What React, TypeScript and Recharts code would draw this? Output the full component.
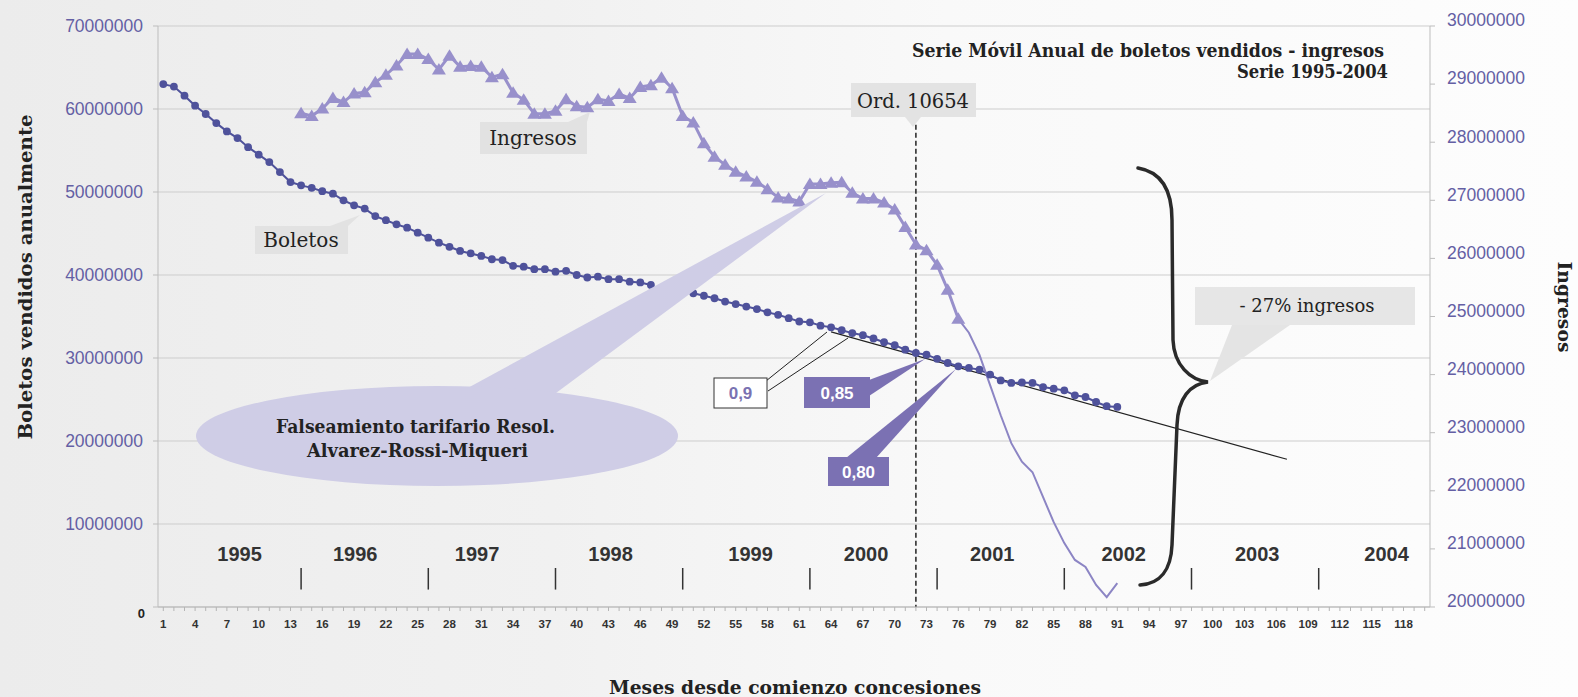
import {
  CartesianGrid,
  Line,
  LineChart,
  ReferenceDot,
  ReferenceLine,
  XAxis,
  YAxis,
} from "recharts";

const W = 1578;
const H = 697;

// Boletos vendidos (serie móvil anual), meses 1..91; 48-50 sin dato
const boletos = [
  63.0e6, 62.7e6, 61.6e6, 60.4e6, 59.4e6, 58.3e6, 57.3e6, 56.5e6, 55.4e6, 54.5e6,
  53.6e6, 52.4e6, 51.2e6, 50.8e6, 50.5e6, 50.1e6, 49.8e6, 49.0e6, 48.4e6, 48.0e6,
  47.1e6, 46.6e6, 46.1e6, 45.7e6, 45.1e6, 44.5e6, 43.9e6, 43.4e6, 42.9e6, 42.6e6,
  42.3e6, 41.9e6, 41.8e6, 41.1e6, 41.0e6, 40.7e6, 40.7e6, 40.4e6, 40.5e6, 40.0e6,
  39.7e6, 39.8e6, 39.5e6, 39.5e6, 39.2e6, 39.1e6, 38.8e6, null, null, null,
  37.8e6, 37.5e6, 37.2e6, 36.8e6, 36.5e6, 36.2e6, 35.9e6, 35.5e6, 35.2e6, 34.8e6,
  34.4e6, 34.3e6, 33.9e6, 33.7e6, 33.35e6, 33.0e6, 32.75e6, 32.35e6, 31.9e6, 31.55e6,
  31.0e6, 30.6e6, 30.4e6, 29.9e6, 29.4e6, 29.0e6, 28.8e6, 28.6e6, 28.0e6, 27.3e6,
  27.0e6, 27.05e6, 27.0e6, 26.5e6, 26.3e6, 26.1e6, 25.5e6, 25.3e6, 24.7e6, 24.2e6,
  24.1e6,
];

// Ingresos con marcador, meses 14..76
const INGRESOS_MARKED_FROM = 14;
const ingresosMarked = [
  28.5e6, 28.45e6, 28.58e6, 28.76e6, 28.69e6, 28.84e6, 28.86e6, 29.03e6, 29.16e6, 29.32e6,
  29.52e6, 29.52e6, 29.43e6, 29.25e6, 29.49e6, 29.3e6, 29.31e6, 29.3e6, 29.12e6, 29.17e6,
  28.85e6, 28.73e6, 28.49e6, 28.49e6, 28.54e6, 28.74e6, 28.62e6, 28.6e6, 28.74e6, 28.71e6,
  28.83e6, 28.76e6, 28.95e6, 28.98e6, 29.11e6, 28.93e6, 28.45e6, 28.34e6, 27.98e6, 27.75e6,
  27.61e6, 27.49e6, 27.41e6, 27.32e6, 27.19e6, 27.05e6, 27.03e6, 26.98e6, 27.28e6, 27.28e6,
  27.3e6, 27.31e6, 27.13e6, 27.03e6, 27.03e6, 26.96e6, 26.84e6, 26.54e6, 26.24e6, 26.14e6,
  25.89e6, 25.46e6, 24.96e6,
];

// Ingresos sin marcador, meses 76..91
const INGRESOS_TAIL_FROM = 76;
const ingresosTail = [
  24.96e6, 24.72e6, 24.34e6, 23.82e6, 23.3e6, 22.82e6, 22.5e6, 22.32e6, 21.89e6, 21.46e6,
  21.1e6, 20.81e6, 20.69e6, 20.38e6, 20.17e6, 20.41e6,
];

const leftTicks = [0, 10e6, 20e6, 30e6, 40e6, 50e6, 60e6, 70e6];
const rightTicks = [20e6, 21e6, 22e6, 23e6, 24e6, 25e6, 26e6, 27e6, 28e6, 29e6, 30e6];
const monthTicks = Array.from({ length: 120 }, (_, i) => i + 1);

const yearLabels = ["1995", "1996", "1997", "1998", "1999", "2000", "2001", "2002", "2003", "2004"];
const yearLabelMonths = [8.2, 19.1, 30.6, 43.2, 56.4, 67.3, 79.2, 91.6, 104.2, 116.4];
const yearBoundaryMonths = [14, 26, 38, 50, 62, 74, 86, 98, 110];

const ordMonth = 72;
const trendStart = { m: 64, v: 33.15e6 };
const trendEnd = { m: 107, v: 17.8e6 };

const rows = boletos.map((b, i) => {
  const m = i + 1;
  const mi = m - INGRESOS_MARKED_FROM;
  const ti = m - INGRESOS_TAIL_FROM;
  return {
    m,
    boletos: b,
    ingMarked: mi >= 0 && mi < ingresosMarked.length ? ingresosMarked[mi] : null,
    ingTail: ti >= 0 && ti < ingresosTail.length ? ingresosTail[ti] : null,
  };
});

const BOL = "#4f529b";
const ING = "#9890cb";
const ING_TAIL = "#8c85c4";
const AXIS_TXT = "#645fa4";
const BOX_PURPLE = "#7b71b3";
const SERIF = "'DejaVu Serif', serif";
const SANS = "'Liberation Sans', Arial, sans-serif";

function MonthTick({ x, y, payload }: any) {
  const m = payload.value;
  if ((m - 1) % 3 !== 0) return <g />;
  return (
    <text x={x} y={y + 15} textAnchor="middle" fontFamily={SANS} fontSize={11.5} fontWeight={700} fill="#333">
      {m}
    </text>
  );
}

function LeftTick({ x, y, payload }: any) {
  const v = payload.value;
  if (v === 0) {
    return (
      <text x={x + 2} y={y + 11} textAnchor="end" fontFamily={SANS} fontSize={13} fontWeight={700} fill="#222">
        0
      </text>
    );
  }
  return (
    <text x={x} y={y} dy="0.36em" textAnchor="end" fontFamily={SANS} fontSize={17.5} fill={AXIS_TXT}>
      {v}
    </text>
  );
}

function RightTick({ x, y, payload }: any) {
  return (
    <text x={x} y={y - 6} dy="0.36em" textAnchor="start" fontFamily={SANS} fontSize={17.5} fill={AXIS_TXT}>
      {payload.value}
    </text>
  );
}

function BoletoDot(p: any) {
  if (p.cy == null || p.value == null) return <g key={`bd-${p.index}`} />;
  return <circle key={`bd-${p.index}`} cx={p.cx} cy={p.cy} r={3.9} fill={BOL} />;
}

function TriangleDot(p: any) {
  if (p.cy == null || p.value == null) return <g key={`td-${p.index}`} />;
  const { cx, cy } = p;
  return (
    <polygon
      key={`td-${p.index}`}
      points={`${cx},${cy - 6.5} ${cx - 7},${cy + 5} ${cx + 7},${cy + 5}`}
      fill={ING}
    />
  );
}

function Overlay() {
  return (
    <svg
      width={W}
      height={H}
      style={{ position: "absolute", left: 0, top: 0, pointerEvents: "none" }}
    >
      {/* callout ellipse */}
      <polygon points="464,390 556,393 826,193" fill="#cfcde6" />
      <ellipse cx={437} cy={436} rx={241} ry={50} fill="#cfcde6" />
      <text x={276} y={433} fontFamily={SERIF} fontWeight={700} fontSize={19} fill="#222" textLength={279} lengthAdjust="spacingAndGlyphs">
        Falseamiento tarifario Resol.
      </text>
      <text x={307} y={457} fontFamily={SERIF} fontWeight={700} fontSize={19} fill="#222" textLength={221} lengthAdjust="spacingAndGlyphs">
        Alvarez-Rossi-Miqueri
      </text>

      {/* titles */}
      <text x={912} y={57} fontFamily={SERIF} fontWeight={700} fontSize={18} fill="#222" textLength={472} lengthAdjust="spacingAndGlyphs">
        Serie Móvil Anual de boletos vendidos - ingresos
      </text>
      <text x={1237} y={78} fontFamily={SERIF} fontWeight={700} fontSize={18} fill="#222" textLength={151} lengthAdjust="spacingAndGlyphs">
        Serie 1995-2004
      </text>

      {/* Ord. 10654 */}
      <rect x={851} y={83} width={125} height={34} fill="#e3e3e3" />
      <polygon points="905,117 921,117 913,127" fill="#e3e3e3" />
      <text x={857} y={108} fontFamily={SERIF} fontSize={20} fill="#222" textLength={112} lengthAdjust="spacingAndGlyphs">
        Ord. 10654
      </text>

      {/* series labels */}
      <rect x={480} y={122} width={107} height={32} fill="#e2e2e2" />
      <polygon points="568,122 587,122 590,112" fill="#e2e2e2" />
      <text x={533} y={145} textAnchor="middle" fontFamily={SERIF} fontSize={20} fill="#222">
        Ingresos
      </text>
      <rect x={255} y={226} width={93} height={28} fill="#e2e2e2" />
      <polygon points="330,226 348,226 360,215" fill="#e2e2e2" />
      <text x={301} y={247} textAnchor="middle" fontFamily={SERIF} fontSize={20} fill="#222">
        Boletos
      </text>

      {/* elasticity boxes */}
      <line x1={766} y1={381} x2={827} y2={332} stroke="#222" strokeWidth={1} />
      <line x1={768} y1={391} x2={848} y2={338} stroke="#222" strokeWidth={1} />
      <rect x={714} y={378} width={53} height={30} fill="#fff" stroke="#333" strokeWidth={1} />
      <text x={740.5} y={399} textAnchor="middle" fontFamily={SANS} fontWeight={700} fontSize={17} fill="#7a72b2">
        0,9
      </text>
      <polygon points="869,380 869,396 925,359" fill={BOX_PURPLE} />
      <rect x={804} y={377} width={66} height={31} fill={BOX_PURPLE} />
      <text x={837} y={399} textAnchor="middle" fontFamily={SANS} fontWeight={700} fontSize={17} fill="#fff">
        0,85
      </text>
      <polygon points="846,458 876,458 956,369" fill={BOX_PURPLE} />
      <rect x={828} y={457} width={61} height={29} fill={BOX_PURPLE} />
      <text x={858.5} y={478} textAnchor="middle" fontFamily={SANS} fontWeight={700} fontSize={17} fill="#fff">
        0,80
      </text>

      {/* brace + -27% */}
      <polygon points="1210,381 1232,325 1290,325" fill="#e4e4e4" />
      <rect x={1195} y={287} width={220} height={38} fill="#e6e6e6" />
      <text x={1307} y={312} textAnchor="middle" fontFamily={SERIF} fontSize={18} fill="#222">
        - 27% ingresos
      </text>
      <path
        d="M1138,168 C1162,172 1172,190 1172,220 L1173,340 C1174,365 1190,380 1208,382 C1190,384 1178,398 1177,425 L1172,545 C1171,570 1160,584 1140,585"
        fill="none"
        stroke="#2a2a2a"
        strokeWidth={3.5}
        strokeLinecap="round"
      />

      {/* axis titles */}
      <text
        x={0}
        y={0}
        transform="translate(32,277) rotate(-90)"
        textAnchor="middle"
        fontFamily={SERIF}
        fontWeight={700}
        fontSize={18}
        fill="#222"
        textLength={325}
        lengthAdjust="spacingAndGlyphs"
      >
        Boletos vendidos anualmente
      </text>
      <text
        x={0}
        y={0}
        transform="translate(1558,307) rotate(90)"
        textAnchor="middle"
        fontFamily={SERIF}
        fontWeight={700}
        fontSize={19}
        fill="#222"
        textLength={91}
        lengthAdjust="spacingAndGlyphs"
      >
        Ingresos
      </text>
      <text x={795} y={694} textAnchor="middle" fontFamily={SERIF} fontWeight={700} fontSize={19} fill="#222" textLength={372} lengthAdjust="spacingAndGlyphs">
        Meses desde comienzo concesiones
      </text>
    </svg>
  );
}

export default function App() {
  return (
    <div
      style={{
        position: "relative",
        width: W,
        height: H,
        background: "linear-gradient(90deg, #ececec 0%, #f1f1f1 35%, #f9f9f9 60%, #fdfdfd 100%)",
      }}
    >
      <style>{`body{margin:0}`}</style>
      <LineChart width={W} height={H} data={rows} margin={{ top: 26, right: 48, bottom: 60, left: 58 }}>
        <CartesianGrid yAxisId="left" vertical={false} stroke="#cdcdcd" />
        <XAxis
          type="number"
          dataKey="m"
          domain={[0.5, 120.5]}
          ticks={monthTicks}
          interval={0}
          height={30}
          tick={<MonthTick />}
          tickSize={4}
          stroke="#b5b5b5"
        />
        <YAxis
          yAxisId="left"
          domain={[0, 70e6]}
          ticks={leftTicks}
          width={100}
          tickSize={5}
          tickMargin={10}
          tick={<LeftTick />}
          stroke="#bdbdbd"
        />
        <YAxis
          yAxisId="right"
          orientation="right"
          domain={[20e6, 30e6]}
          ticks={rightTicks}
          width={100}
          tickSize={5}
          tickMargin={12}
          tick={<RightTick />}
          stroke="#bdbdbd"
        />

        {yearBoundaryMonths.map((m) => (
          <ReferenceLine
            key={`yb-${m}`}
            yAxisId="left"
            segment={[
              { x: m, y: 4.7e6 },
              { x: m, y: 2.1e6 },
            ]}
            stroke="#333"
            strokeWidth={1.5}
          />
        ))}
        {yearLabels.map((lab, i) => (
          <ReferenceDot
            key={`yl-${lab}`}
            yAxisId="left"
            x={yearLabelMonths[i]}
            y={6.4e6}
            r={0}
            shape={(p: any) => (
              <text x={p.cx} y={p.cy + 7} textAnchor="middle" fontFamily={SANS} fontWeight={700} fontSize={20} fill="#333">
                {lab}
              </text>
            )}
          />
        ))}

        <ReferenceLine
          yAxisId="left"
          segment={[
            { x: ordMonth, y: 58.1e6 },
            { x: ordMonth, y: 0 },
          ]}
          stroke="#222"
          strokeWidth={1.5}
          strokeDasharray="5 3"
        />
        <ReferenceLine
          yAxisId="left"
          segment={[
            { x: trendStart.m, y: trendStart.v },
            { x: trendEnd.m, y: trendEnd.v },
          ]}
          stroke="#222"
          strokeWidth={1.2}
        />

        <Line
          yAxisId="left"
          dataKey="boletos"
          stroke={BOL}
          strokeWidth={2}
          dot={BoletoDot}
          activeDot={false}
          connectNulls={false}
          isAnimationActive={false}
        />
        <Line
          yAxisId="right"
          dataKey="ingMarked"
          stroke={ING}
          strokeWidth={3}
          dot={TriangleDot}
          activeDot={false}
          connectNulls={false}
          isAnimationActive={false}
        />
        <Line
          yAxisId="right"
          dataKey="ingTail"
          stroke={ING_TAIL}
          strokeWidth={2}
          dot={false}
          activeDot={false}
          connectNulls={false}
          isAnimationActive={false}
        />
      </LineChart>
      <Overlay />
    </div>
  );
}
